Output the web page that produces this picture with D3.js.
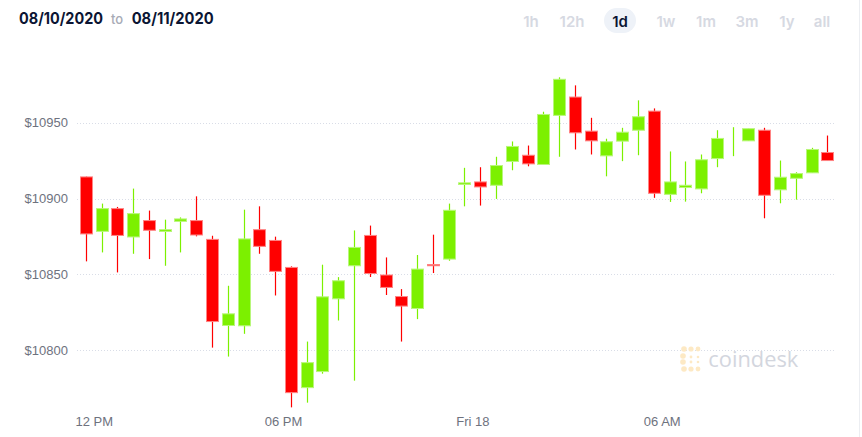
<!DOCTYPE html>
<html>
<head>
<meta charset="utf-8">
<script src="https://cdn.jsdelivr.net/npm/d3@7"></script>
<style>
  html, body { margin: 0; padding: 0; background: #ffffff; }
  svg { display: block; }
</style>
</head>
<body>
<svg id="chart" width="862" height="437"></svg>
<script>
// ---- data (30-minute candles) ----
const times = ["11:30","12:00","12:30","13:00","13:30","14:00","14:30","15:00","15:30","16:00",
  "16:30","17:00","17:30","18:00","18:30","19:00","19:30","20:00","20:30","21:00",
  "21:30","22:00","22:30","23:00","23:30","00:00","00:30","01:00","01:30","02:00",
  "02:30","03:00","03:30","04:00","04:30","05:00","05:30","06:00","06:30","07:00",
  "07:30","08:00","08:30","09:00","09:30","10:00","10:30","11:00"];
const openV  = [10914.3,10878.4,10893.4,10874.7,10885.5,10878.3,10885.0,10885.5,10873.1,10816.3,
  10816.1,10879.5,10872.4,10854.6,10775.3,10785.9,10833.9,10855.7,10875.7,10849.6,
  10835.4,10827.5,10856.5,10860.1,10909.3,10911.0,10908.8,10924.5,10928.6,10922.5,
  10954.9,10967.0,10944.5,10928.2,10937.9,10945.1,10957.7,10902.8,10907.3,10906.4,
  10926.4,10938.0,10938.1,10945.1,10905.8,10913.4,10917.0,10930.4];
const closeV = [10876.7,10893.4,10875.7,10890.1,10879.1,10879.5,10886.6,10876.0,10818.9,10824.0,
  10873.4,10868.5,10852.0,10772.0,10791.8,10835.2,10845.8,10867.8,10850.6,10841.4,
  10829.1,10853.5,10856.0,10892.3,10910.4,10907.7,10921.8,10934.4,10922.9,10955.5,
  10978.7,10943.4,10938.1,10937.5,10943.8,10954.0,10903.5,10911.0,10908.8,10925.6,
  10939.7,10938.0,10946.1,10902.2,10914.1,10916.5,10932.4,10925.1];
const highV  = [10914.5,10896.7,10894.5,10906.6,10892.1,10886.1,10887.6,10901.5,10875.5,10842.5,
  10892.7,10894.9,10874.9,10855.3,10805.7,10856.4,10848.2,10879.0,10882.2,10861.2,
  10840.3,10862.8,10876.2,10896.7,10920.3,10920.7,10927.6,10937.7,10935.0,10957.3,
  10980.0,10974.7,10953.3,10939.5,10946.7,10964.8,10959.5,10931.1,10924.5,10929.1,
  10945.1,10947.1,10946.1,10946.7,10925.1,10917.4,10933.5,10941.6];
const lowV   = [10858.6,10864.5,10851.3,10863.6,10860.1,10855.7,10864.5,10875.1,10801.7,10795.8,
  10810.8,10863.6,10836.1,10762.3,10765.4,10784.5,10819.6,10779.9,10848.3,10836.4,
  10805.7,10820.5,10850.9,10859.0,10894.9,10895.4,10899.8,10918.7,10921.3,10922.5,
  10927.6,10932.4,10929.1,10914.7,10924.7,10928.6,10900.5,10897.8,10898.0,10903.5,
  10920.7,10928.0,10938.1,10887.0,10896.9,10899.3,10917.0,10925.1];

const yTicks = [10800, 10850, 10900, 10950];
const xTickTimes = ["2020-09-17T12:00","2020-09-17T18:00","2020-09-18T00:00","2020-09-18T06:00"];
const xTickLabels = ["12 PM","06 PM","Fri 18","06 AM"];
const rangeButtons = ["1h","12h","1d","1w","1m","3m","1y","all"];
const activeRange = "1d";
const dateFrom = "08/10/2020", dateTo = "08/11/2020";

// ---- build candles ----
let day = 17, prevH = -1;
const candles = times.map((t, i) => {
  const [h, m] = t.split(":").map(Number);
  if (prevH >= 0 && h < prevH) day += 1;
  prevH = h;
  const start = new Date(2020, 8, day, h, m);
  return { start, mid: new Date(+start + 15 * 60000),
           o: openV[i], c: closeV[i], h: highV[i], l: lowV[i] };
});

const svg = d3.select("#chart");
const FONT = "'Liberation Sans', Arial, sans-serif";

const x = d3.scaleTime()
  .domain([new Date(2020, 8, 17, 12, 0), new Date(2020, 8, 18, 6, 0)])
  .range([93.7, 661.7]);
const y = d3.scaleLinear().domain([10800, 10950]).range([350.2, 122.8]);

// right border
svg.append("line").attr("x1", 859.5).attr("x2", 859.5).attr("y1", 0).attr("y2", 437)
  .attr("stroke", "#eceef2").attr("stroke-width", 1);

// ---- header ----
svg.append("text").attr("x", 19).attr("y", 24).text(dateFrom)
  .attr("font-family", "Inter, sans-serif").attr("font-weight", 700).attr("font-size", 16)
  .attr("fill", "#0b1533").attr("textLength", 84).attr("lengthAdjust", "spacingAndGlyphs");
svg.append("text").attr("x", 111).attr("y", 24).text("to")
  .attr("font-family", "Inter, sans-serif").attr("font-weight", 500).attr("font-size", 13)
  .attr("fill", "#a7abb6");
svg.append("text").attr("x", 131.7).attr("y", 24).text(dateTo)
  .attr("font-family", "Inter, sans-serif").attr("font-weight", 700).attr("font-size", 16)
  .attr("fill", "#0b1533").attr("textLength", 82).attr("lengthAdjust", "spacingAndGlyphs");

const btnX = [531, 572, 620, 666, 706, 747, 787, 822];
const bg = svg.append("g");
bg.append("rect").attr("x", 604).attr("y", 8).attr("width", 32).attr("height", 25)
  .attr("rx", 12.5).attr("fill", "#eef2f8");
bg.selectAll("text").data(rangeButtons).join("text")
  .attr("x", (d, i) => btnX[i]).attr("y", 27).attr("text-anchor", "middle")
  .attr("font-family", "Inter, sans-serif").attr("font-weight", 600).attr("font-size", 15)
  .attr("fill", d => d === activeRange ? "#0b1533" : "#d6d9e2")
  .text(d => d);

// ---- grid ----
svg.append("g").selectAll("line").data(yTicks).join("line")
  .attr("x1", 77).attr("x2", 835)
  .attr("y1", d => Math.round(y(d)) + 0.5).attr("y2", d => Math.round(y(d)) + 0.5)
  .attr("stroke", "#d9dde7").attr("stroke-width", 1).attr("stroke-dasharray", "1,2");

// ---- y axis ----
const yAxis = svg.append("g").attr("transform", "translate(68,0)")
  .call(d3.axisLeft(y).tickValues(yTicks).tickSize(0).tickPadding(0).tickFormat(d => "$" + d));
yAxis.select(".domain").remove();
yAxis.selectAll("text").attr("font-family", FONT).attr("font-size", 13).attr("fill", "#6e727e");

// ---- x axis ----
const xAxis = svg.append("g").attr("transform", "translate(0,410)")
  .call(d3.axisBottom(x).tickValues(xTickTimes.map(s => new Date(s)))
    .tickSize(0).tickPadding(6.5).tickFormat((d, i) => xTickLabels[i]));
xAxis.select(".domain").remove();
xAxis.selectAll("text").attr("font-family", FONT).attr("font-size", 13).attr("fill", "#6e727e");

// ---- watermark ----
const wm = svg.append("g").attr("transform", "translate(680,346)");
const dots = [[4,3,2.8],[11,3,2.6],[18,3,2.4],[3,10,2.8],[3,16,2.8],[4,23,2.8],[11,23,2.6],[18,23,2.4],
  [11,11,1.4],[18,11,1.3],[11,16,1.4],[18,16,1.3]];
wm.selectAll("circle").data(dots).join("circle")
  .attr("cx", d => d[0]).attr("cy", d => d[1]).attr("r", d => d[2]).attr("fill", "#fde9c4");
svg.append("text").attr("x", 708.3).attr("y", 367.3).text("coindesk")
  .attr("font-family", "'Open Sans', sans-serif").attr("font-size", 22).attr("fill", "#d3d6de")
  .attr("textLength", 90).attr("lengthAdjust", "spacingAndGlyphs");

// ---- candles ----
const UP = "#7cf000", UP_EDGE = "#b8f77a";
const DN = "#ff0000", DN_EDGE = "#ff8484";
const bw = 12;
const cg = svg.append("g");
const g = cg.selectAll("g").data(candles).join("g");
g.append("line")
  .attr("x1", d => Math.round(x(d.mid)) + 0.5).attr("x2", d => Math.round(x(d.mid)) + 0.5)
  .attr("y1", d => y(d.h)).attr("y2", d => y(d.l))
  .attr("stroke", d => d.c >= d.o ? UP : DN).attr("stroke-width", 1.2);
g.filter(d => d.o !== d.c).append("rect")
  .attr("x", d => Math.round(x(d.mid)) + 0.5 - bw / 2)
  .attr("y", d => y(Math.max(d.o, d.c)))
  .attr("width", bw)
  .attr("height", d => Math.max(1.2, Math.abs(y(d.o) - y(d.c))))
  .attr("fill", d => d.c >= d.o ? UP : DN)
  .attr("stroke", d => d.c >= d.o ? UP_EDGE : DN_EDGE).attr("stroke-width", 1);
</script>
</body>
</html>
